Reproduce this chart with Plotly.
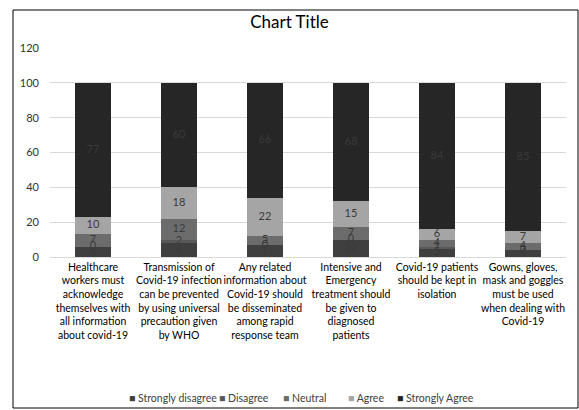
import plotly.graph_objects as go

categories = [
    "Healthcare<br>workers must<br>acknowledge<br>themselves with<br>all information<br>about covid-19",
    "Transmission of<br>Covid-19 infection<br>can be prevented<br>by using universal<br>precaution given<br>by WHO",
    "Any related<br>information about<br>Covid-19 should<br>be disseminated<br>among rapid<br>response team",
    "Intensive and<br>Emergency<br>treatment should<br>be given to<br>diagnosed<br>patients",
    "Covid-19 patients<br>should be kept in<br>isolation",
    "Gowns, gloves,<br>mask and goggles<br>must be used<br>when dealing with<br>Covid-19",
]

strongly_disagree = [6, 8, 7, 10, 5, 4]
disagree = [0, 2, 0, 0, 1, 0]
neutral = [7, 12, 5, 7, 4, 4]
agree = [10, 18, 22, 15, 6, 7]
strongly_agree = [77, 60, 66, 68, 84, 85]

series = [
    ("Strongly disagree", strongly_disagree, "#3f3f3f"),
    ("Disagree", disagree, "#585858"),
    ("Neutral", neutral, "#6c6c6c"),
    ("Agree", agree, "#a5a5a5"),
    ("Strongly Agree", strongly_agree, "#262626"),
]

font_family = "Lato, 'Open Sans', sans-serif"

fig = go.Figure()
base = [0] * len(categories)
for name, vals, color in series:
    fig.add_trace(go.Bar(
        name=name, x=categories, y=vals,
        marker=dict(color=color, line=dict(width=0)),
        showlegend=False,
    ))
    # value labels centred in each segment (drawn even for thin segments)
    mids = [b + v / 2 for b, v in zip(base, vals)]
    fig.add_trace(go.Scatter(
        x=categories, y=mids, mode="text", text=[str(v) for v in vals],
        textposition="middle center", showlegend=False, hoverinfo="skip",
        textfont=dict(color="#3a3a3a", size=11, family=font_family),
        cliponaxis=False,
    ))
    base = [b + v for b, v in zip(base, vals)]

fig.update_layout(
    barmode="stack",
    bargap=0.59,
    width=579, height=410,
    margin=dict(l=50, r=13, t=48, b=153),
    paper_bgcolor="white", plot_bgcolor="white",
    font=dict(family=font_family, color="#000000", size=11),
    title=dict(text="Chart Title", x=0.5, xanchor="center", y=1 - 22 / 410,
               yanchor="middle", font=dict(size=17, color="#000000", family=font_family)),
    showlegend=False,
    xaxis=dict(tickfont=dict(size=10.5, color="#000000"), showline=True, tickangle=0,
               linecolor="#d9d9d9", linewidth=1, ticks=""),
    yaxis=dict(range=[0, 120], dtick=20, showgrid=True, gridcolor="#d9d9d9",
               gridwidth=1, zeroline=False, tickfont=dict(size=11, color="#333333"),
               ticks="", ticklabelstandoff=10),
)

# Legend drawn as a compact row of swatch + label
legend_x = [127, 217, 281, 346, 395]
for (name, _, color), px in zip(series, legend_x):
    fig.add_annotation(
        xref="paper", yref="paper", x=(px - 50) / 516, y=-(398 - 257) / 209,
        xanchor="left", yanchor="middle", showarrow=False,
        text=f"<span style='color:{color}'>■</span> {name}",
        font=dict(size=10.5, color="#404040", family=font_family),
    )

# Outer chart frame
fig.add_shape(type="rect", xref="paper", yref="paper",
              x0=-(50 - 13) / 516, x1=1 + 12 / 516, y0=-(153 - 2) / 209, y1=1 + (48 - 10) / 209,
              line=dict(color="#000000", width=1), layer="below")

fig.write_html("out.html")
